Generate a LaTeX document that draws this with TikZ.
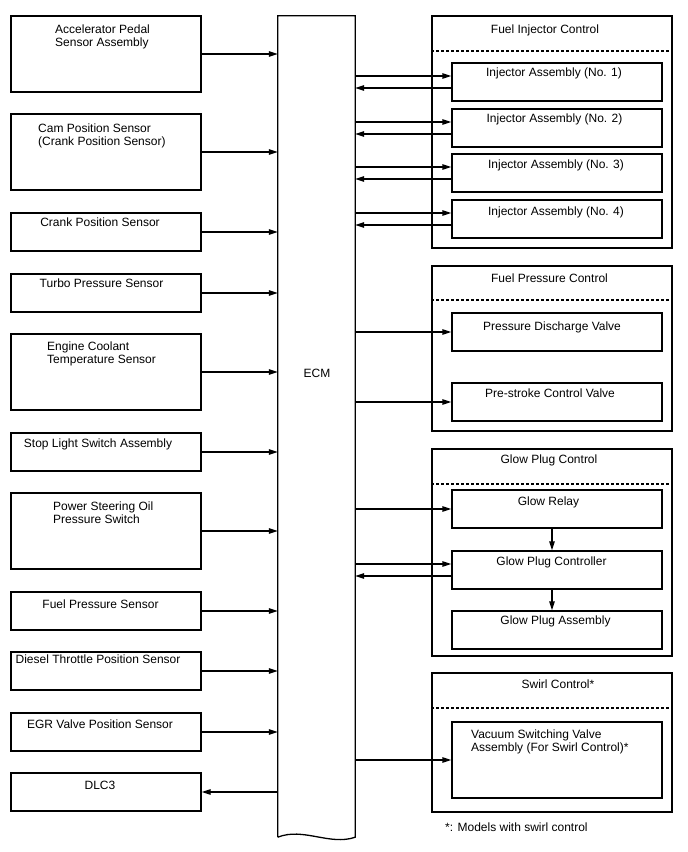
\documentclass[tikz,border=0pt]{standalone}
\usepackage{fontspec}
\setmainfont{Liberation Sans}
\usetikzlibrary{arrows.meta}
\newcommand\mybox[5]{\node[box,minimum width={#4-#2},minimum height={#5-#3}] (#1) at ({(#2+#4)/2},{(#3+#5)/2}) {};}
\begin{document}
\begin{tikzpicture}[x=1pt,y=-1pt,
  box/.style={draw,line width=1.3pt,rectangle,inner sep=0pt},
  txt/.style={font=\fontsize{12}{13.4}\selectfont,inner sep=0pt},
  arr/.style={line width=1.3pt,-{Triangle[length=9pt,width=5.5pt]}},
  dashline/.style={line width=1.3pt,dash pattern=on 3pt off 2pt}]
\fill[white] (0,0) rectangle (688,852);
\useasboundingbox (0,0) rectangle (688,852);

% ECM
\node[minimum width=77,minimum height=821,inner sep=0pt] (ecm) at (316.5,426.5) {};
\draw[line width=1.3pt] (ecm.south west) -- (ecm.north west) -- (ecm.north east) -- (ecm.south east)
  .. controls (330,846) and (303,827) .. (ecm.south west);
\node[txt,anchor=base] (ecmt) at (317,377) {ECM};

% left boxes
\mybox{l1}{11}{16}{201}{92}
\mybox{l2}{11}{114}{201}{190}
\mybox{l3}{11}{213}{201}{251}
\mybox{l4}{11}{274}{201}{312}
\mybox{l5}{11}{334}{201}{410}
\mybox{l6}{11}{433}{201}{471}
\mybox{l7}{11}{493}{201}{569}
\mybox{l8}{11}{592}{201}{630}
\mybox{l9}{11}{652}{201}{690}
\mybox{l10}{11}{713}{201}{751}
\mybox{l11}{11}{773}{201}{811}

\node[txt,anchor=north west,align=left] (t1) at (55,24.4) {Accelerator Pedal\\Sensor Assembly};
\node[txt,anchor=north west,align=left] (t2) at (38,123.4) {Cam Position Sensor\\(Crank Position Sensor)};
\node[txt,anchor=base] (t3) at (100,226) {Crank Position Sensor};
\node[txt,anchor=base] (t4) at (101.5,287) {Turbo Pressure Sensor};
\node[txt,anchor=north west,align=left] (t5) at (47,341.4) {Engine Coolant\\Temperature Sensor};
\node[txt,anchor=base] (t6) at (98,447) {Stop Light Switch Assembly};
\node[txt,anchor=north west,align=left] (t7) at (53,501.4) {Power Steering Oil\\Pressure Switch};
\node[txt,anchor=base] (t8) at (100.5,608) {Fuel Pressure Sensor};
\node[txt,anchor=base] (t9) at (98,663.5) {Diesel Throttle Position Sensor};
\node[txt,anchor=base] (t10) at (100,728) {EGR Valve Position Sensor};
\node[txt,anchor=base] (t11) at (100,789) {DLC3};

\foreach \b in {l1,l2,l3,l4,l5,l6,l7,l8,l9,l10}
  \draw[arr] (\b.east) -- (\b.east -| ecm.west);
\draw[arr] (l11.east -| ecm.west) -- (l11.east);

% right groups
\mybox{g1}{432}{16}{672}{248}
\mybox{g2}{432}{266}{672}{431}
\mybox{g3}{432}{449}{672}{656}
\mybox{g4}{432}{673}{672}{812}
\draw[dashline] (g1.west |- 0,51) -- (g1.east |- 0,51);
\draw[dashline] (g2.west |- 0,300) -- (g2.east |- 0,300);
\draw[dashline] (g3.west |- 0,484) -- (g3.east |- 0,484);
\draw[dashline] (g4.west |- 0,708) -- (g4.east |- 0,708);
\node[txt,anchor=base] (g1t) at (545,33) {Fuel Injector Control};
\node[txt,anchor=base] (g2t) at (549.5,282) {Fuel Pressure Control};
\node[txt,anchor=base] (g3t) at (549,463) {Glow Plug Control};
\node[txt,anchor=base] (g4t) at (558,688) {Swirl Control*};

% inner boxes
\mybox{i1}{452}{63}{662}{101}
\mybox{i2}{452}{109}{662}{147}
\mybox{i3}{452}{154}{662}{192}
\mybox{i4}{452}{200}{662}{238}
\mybox{pdv}{452}{313}{662}{351}
\mybox{pcv}{452}{383}{662}{421}
\mybox{gr}{452}{490}{662}{528}
\mybox{gpc}{452}{551}{662}{589}
\mybox{gpa}{452}{611}{662}{649}
\mybox{vsv}{452}{722}{662}{798}

\node[txt,anchor=base] (i1t) at (554,76.5) {Injector Assembly (No. 1)};
\node[txt,anchor=base] (i2t) at (554.5,122.5) {Injector Assembly (No. 2)};
\node[txt,anchor=base] (i3t) at (556,168) {Injector Assembly (No. 3)};
\node[txt,anchor=base] (i4t) at (556,215) {Injector Assembly (No. 4)};
\node[txt,anchor=base] (pdvt) at (552,330) {Pressure Discharge Valve};
\node[txt,anchor=base] (pcvt) at (550,397) {Pre-stroke Control Valve};
\node[txt,anchor=base] (grt) at (548.5,505) {Glow Relay};
\node[txt,anchor=base] (gpct) at (551.5,565) {Glow Plug Controller};
\node[txt,anchor=base] (gpat) at (555.5,624) {Glow Plug Assembly};
\node[txt,anchor=north west,align=left] (vsvt) at (471,729.4) {Vacuum Switching Valve\\Assembly (For Swirl Control)*};
\node[txt,anchor=base west] (foot) at (445,831) {*: Models with swirl control};

% injector connections
\foreach \b in {i1,i2,i3,i4,gpc}{
  \coordinate (\b in) at ([yshift=6pt]\b.west);
  \coordinate (\b out) at ([yshift=-6pt]\b.west);
  \draw[arr] (\b in -| ecm.east) -- (\b in);
  \draw[arr] (\b out) -- (\b out -| ecm.east);
}
\foreach \b in {pdv,pcv,gr,vsv}
  \draw[arr] (\b.west -| ecm.east) -- (\b.west);

\coordinate (grd) at ([xshift=-5pt]gr.south);
\coordinate (gpcd) at ([xshift=-5pt]gpc.south);
\draw[arr] (grd) -- (grd |- gpc.north);
\draw[arr] (gpcd) -- (gpcd |- gpa.north);
\end{tikzpicture}
\end{document}
